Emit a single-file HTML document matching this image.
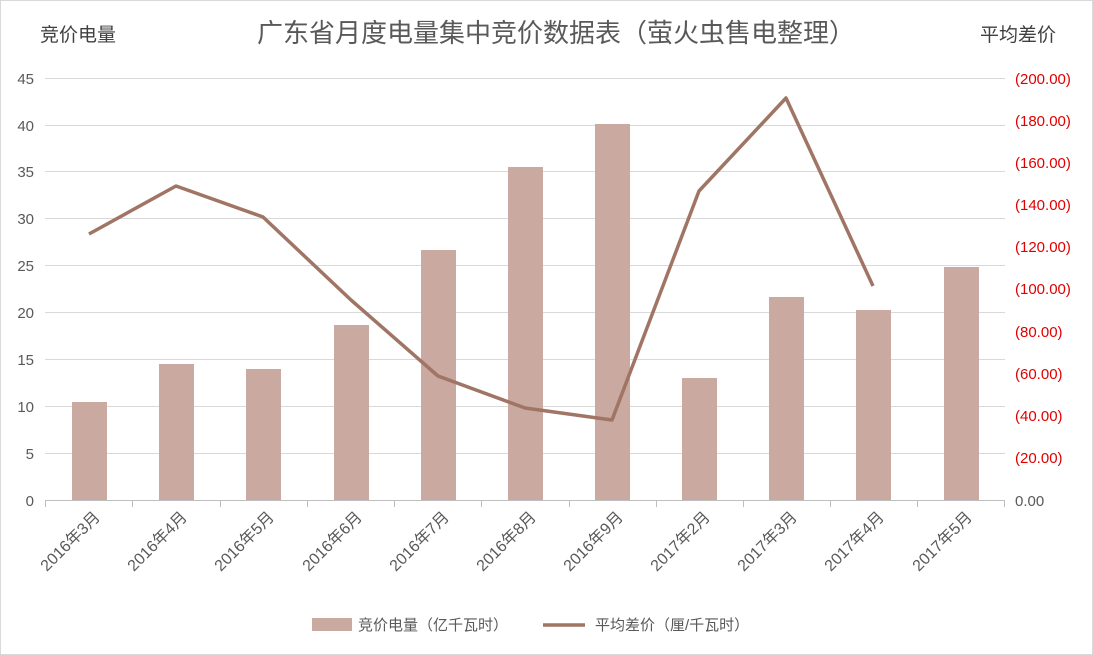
<!DOCTYPE html>
<html><head><meta charset="utf-8"><style>
html,body{margin:0;padding:0;background:#fff}
svg{display:block}
text{font-family:"Liberation Sans","Noto Sans CJK SC",sans-serif}
</style></head><body>
<svg width="1093" height="655" viewBox="0 0 1093 655" xmlns="http://www.w3.org/2000/svg">
<rect x="0.5" y="0.5" width="1092" height="654" fill="#fff" stroke="#d9d9d9"/>
<text x="556" y="42" font-size="26" fill="#595959" text-anchor="middle">广东省月度电量集中竞价数据表（萤火虫售电整理）</text>
<text x="40" y="41" font-size="19" fill="#404040">竞价电量</text>
<text x="980" y="41" font-size="19" fill="#404040">平均差价</text>
<g stroke="#d9d9d9" stroke-width="1">
<line x1="45" x2="1005" y1="78.5" y2="78.5"/>
<line x1="45" x2="1005" y1="125.5" y2="125.5"/>
<line x1="45" x2="1005" y1="171.5" y2="171.5"/>
<line x1="45" x2="1005" y1="218.5" y2="218.5"/>
<line x1="45" x2="1005" y1="265.5" y2="265.5"/>
<line x1="45" x2="1005" y1="312.5" y2="312.5"/>
<line x1="45" x2="1005" y1="359.5" y2="359.5"/>
<line x1="45" x2="1005" y1="406.5" y2="406.5"/>
<line x1="45" x2="1005" y1="453.5" y2="453.5"/>
</g>
<g font-size="15" fill="#595959" text-anchor="end">
<text x="34" y="84">45</text><text x="34" y="131">40</text><text x="34" y="177">35</text>
<text x="34" y="224">30</text><text x="34" y="271">25</text><text x="34" y="318">20</text>
<text x="34" y="365">15</text><text x="34" y="412">10</text><text x="34" y="459">5</text>
<text x="34" y="506">0</text>
</g>
<g font-size="15" fill="#e00000">
<text x="1015" y="84">(200.00)</text><text x="1015" y="126">(180.00)</text><text x="1015" y="168">(160.00)</text>
<text x="1015" y="210">(140.00)</text><text x="1015" y="252">(120.00)</text><text x="1015" y="294">(100.00)</text>
<text x="1015" y="337">(80.00)</text><text x="1015" y="379">(60.00)</text><text x="1015" y="421">(40.00)</text>
<text x="1015" y="463">(20.00)</text><text x="1015" y="506" fill="#595959">0.00</text>
</g>
<g fill="#c9a9a0">
<rect x="72" y="402" width="35" height="98"/>
<rect x="159" y="364" width="35" height="136"/>
<rect x="246" y="369" width="35" height="131"/>
<rect x="334" y="325" width="35" height="175"/>
<rect x="421" y="250" width="35" height="250"/>
<rect x="508" y="167" width="35" height="333"/>
<rect x="595" y="124" width="35" height="376"/>
<rect x="682" y="378" width="35" height="122"/>
<rect x="769" y="297" width="35" height="203"/>
<rect x="856" y="310" width="35" height="190"/>
<rect x="944" y="267" width="35" height="233"/>
</g>
<g stroke="#bfbfbf" stroke-width="1">
<line x1="45" x2="1005" y1="500.5" y2="500.5"/>
<line x1="45.5" x2="45.5" y1="500" y2="507"/><line x1="132.5" x2="132.5" y1="500" y2="507"/>
<line x1="220.5" x2="220.5" y1="500" y2="507"/><line x1="307.5" x2="307.5" y1="500" y2="507"/>
<line x1="394.5" x2="394.5" y1="500" y2="507"/><line x1="481.5" x2="481.5" y1="500" y2="507"/>
<line x1="569.5" x2="569.5" y1="500" y2="507"/><line x1="656.5" x2="656.5" y1="500" y2="507"/>
<line x1="743.5" x2="743.5" y1="500" y2="507"/><line x1="830.5" x2="830.5" y1="500" y2="507"/>
<line x1="917.5" x2="917.5" y1="500" y2="507"/><line x1="1004.5" x2="1004.5" y1="500" y2="507"/>
</g>
<polyline fill="none" stroke="#a07565" stroke-width="3.5" stroke-linejoin="round" points="89,234 176,186 263,217 351,300 438,376 525,408 612,420 699,191 786,98 873,286"/>
<g font-size="16" fill="#595959" text-anchor="end">
<text transform="translate(101,518) rotate(-45)">2016年3月</text>
<text transform="translate(188,518) rotate(-45)">2016年4月</text>
<text transform="translate(275,518) rotate(-45)">2016年5月</text>
<text transform="translate(363,518) rotate(-45)">2016年6月</text>
<text transform="translate(450,518) rotate(-45)">2016年7月</text>
<text transform="translate(537,518) rotate(-45)">2016年8月</text>
<text transform="translate(624,518) rotate(-45)">2016年9月</text>
<text transform="translate(711,518) rotate(-45)">2017年2月</text>
<text transform="translate(798,518) rotate(-45)">2017年3月</text>
<text transform="translate(885,518) rotate(-45)">2017年4月</text>
<text transform="translate(973,518) rotate(-45)">2017年5月</text>
</g>
<rect x="312" y="618" width="40" height="13" fill="#c9a9a0"/>
<text x="358" y="630" font-size="15" fill="#595959">竞价电量（亿千瓦时）</text>
<line x1="543" x2="585" y1="625" y2="625" stroke="#a07565" stroke-width="3.5"/>
<text x="595" y="630" font-size="15" fill="#595959">平均差价（厘/千瓦时）</text>
</svg>
</body></html>
